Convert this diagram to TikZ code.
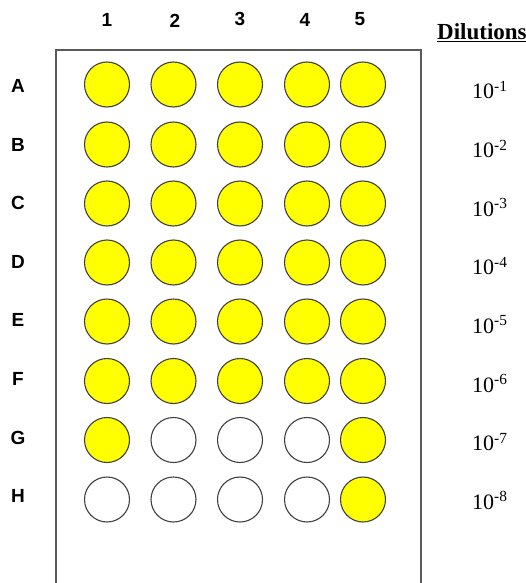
\documentclass[tikz,border=0pt]{standalone}
\usepackage{fontspec}
\setmainfont{Liberation Serif}
\newfontfamily\arialfont{Liberation Sans}
\definecolor{wellyellow}{RGB}{255,255,0}
\begin{document}
\begin{tikzpicture}[x=1pt,y=-1pt,
  well/.style={circle,draw=black!75,line width=1.1pt,minimum size=45pt,inner sep=0pt},
  poswell/.style={well,fill=wellyellow},
  negwell/.style={well,fill=white},
  collab/.style={font=\arialfont\bfseries\fontsize{19}{22}\selectfont,inner sep=0pt},
  dil/.style={font=\fontsize{22}{26}\selectfont,inner sep=0pt,anchor=base west}]
\useasboundingbox (0,0) rectangle (526,583);
% plate outline (open at bottom edge of picture)
\coordinate (pBL) at (56,583);
\coordinate (pTL) at (56,50);
\coordinate (pTR) at (421,50);
\coordinate (pBR) at (421,583);
\draw[black!65,line width=1.3pt] (pBL) -- (pTL) -- (pTR) -- (pBR);
% column labels
\foreach \c/\x/\y in {1/107/20,2/175/21,3/240/19,4/305/20,5/360/19}
  \node[collab] (col\c) at (\x,\y) {\c};
% row letters and dilutions
\foreach \r/\i in {A/0,B/1,C/2,D/3,E/4,F/5,G/6,H/7}{
  \pgfmathsetmacro\e{int(\i+1)}
  \node[collab] (row\r) at (18,86+\i*58.6) {\r};
  \node[dil] (dil\r) at (472,99+\i*58.6) {10\textsuperscript{-\e}};
}
% wells
\foreach \r/\y/\a/\b/\cc/\d/\f in {
  A/84.5/poswell/poswell/poswell/poswell/poswell,
  B/144.5/poswell/poswell/poswell/poswell/poswell,
  C/203.5/poswell/poswell/poswell/poswell/poswell,
  D/262.5/poswell/poswell/poswell/poswell/poswell,
  E/321.5/poswell/poswell/poswell/poswell/poswell,
  F/381/poswell/poswell/poswell/poswell/poswell,
  G/440/poswell/negwell/negwell/negwell/poswell,
  H/499.5/negwell/negwell/negwell/negwell/poswell}{
  \node[\a] (w\r1) at (107,\y) {};
  \node[\b] (w\r2) at (173.5,\y) {};
  \node[\cc] (w\r3) at (240,\y) {};
  \node[\d] (w\r4) at (307,\y) {};
  \node[\f] (w\r5) at (363,\y) {};
}
\node[font=\bfseries\fontsize{23}{26}\selectfont,inner sep=0pt,anchor=base west] (dilhead) at (437,40) {\underline{Dilutions}};
\end{tikzpicture}
\end{document}
